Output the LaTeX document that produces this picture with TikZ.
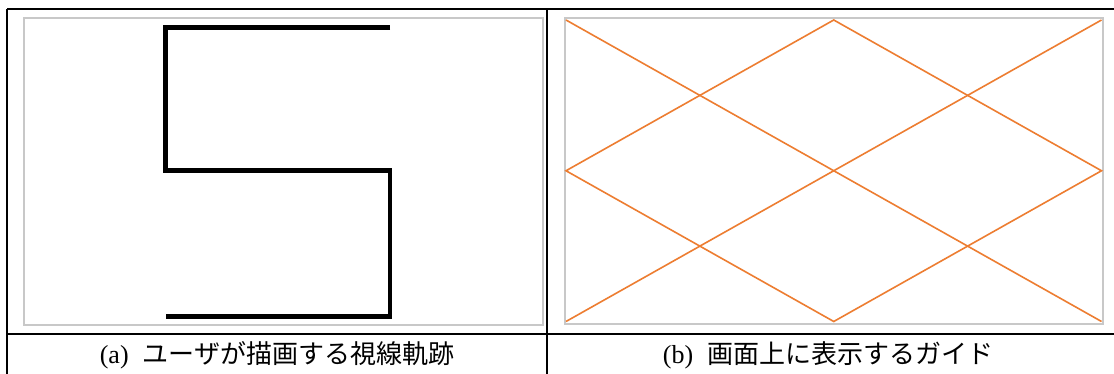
\documentclass[tikz,border=0pt]{standalone}
\usepackage{fontspec}
\setmainfont{Liberation Serif}
\newfontfamily\jafont{Noto Sans CJK JP}
\definecolor{guideorange}{HTML}{ED7D31}
\definecolor{framegray}{HTML}{C8C8C8}
\begin{document}
\begin{tikzpicture}[x=1pt,y=-1pt,
  tablerule/.style={line width=2.4pt,black},
  panelframe/.style={line width=2pt,framegray},
  gazepath/.style={line width=4.8pt,black,line cap=butt,line join=miter},
  guideline/.style={line width=1.6pt,guideorange},
  captiontext/.style={font=\fontsize{26}{30}\selectfont,inner sep=0pt,anchor=center}]
\useasboundingbox (0,0) rectangle (1114,374);
\fill[white] (0,0) rectangle (1114,374);
% table rules
\draw[tablerule] (7,9) -- (1114,9);
\draw[tablerule] (7,9) -- (7,374);
\draw[tablerule] (547,9) -- (547,374);
\draw[tablerule] (7,334) -- (1114,334);
% panel frames
\draw[panelframe] (23.5,18.5) rectangle (543,325);
\draw[panelframe] (564.5,18.5) rectangle (1103,324);
% gaze trajectory
\draw[gazepath] (390,27.5) -- (165.5,27.5) -- (165.5,170.5) -- (390,170.5) -- (390,316.5) -- (165.5,316.5);
% guide
\coordinate (tl) at (566,20);
\coordinate (tr) at (1101.5,20);
\coordinate (bl) at (566,321.5);
\coordinate (br) at (1101.5,321.5);
\coordinate (tm) at (833.75,20);
\coordinate (bm) at (833.75,321.5);
\coordinate (ml) at (566,170.75);
\coordinate (mr) at (1101.5,170.75);
\draw[guideline] (tl) -- (br);
\draw[guideline] (bl) -- (tr);
\draw[guideline] (ml) -- (tm) -- (mr) -- (bm) -- cycle;
% captions
\node[captiontext] (capa) at (277,355) {(a)\hspace{14pt}{\jafont ユーザが描画する視線軌跡}};
\node[captiontext] (capb) at (828,355) {(b)\hspace{14pt}{\jafont 画面上に表示するガイド}};
\end{tikzpicture}
\end{document}
